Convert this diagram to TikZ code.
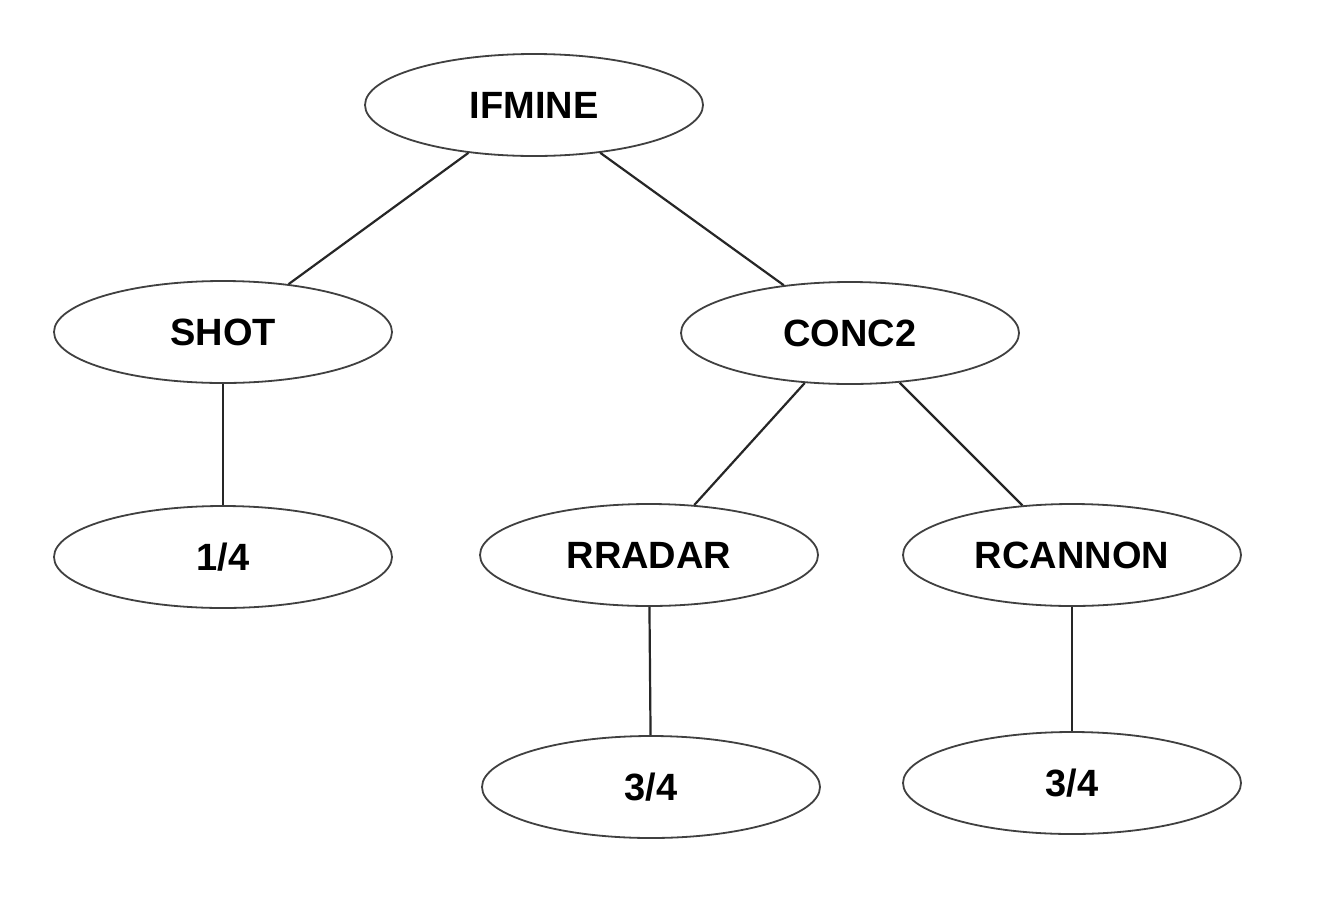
\documentclass[tikz,border=0pt]{standalone}
\usepackage{fontspec}
\setmainfont{Liberation Sans}
\usetikzlibrary{shapes.geometric}
\begin{document}
\begin{tikzpicture}[x=1pt,y=-1pt,
  el/.style={ellipse,draw=black!75,line width=1.8pt,minimum width=338pt,minimum height=102pt,inner sep=0pt,font=\fontsize{38}{40}\selectfont\bfseries},
  ed/.style={draw=black!85,line width=2.2pt}]
\useasboundingbox[fill=white] (0,0) rectangle (1339,903);
\node[el] (ifmine) at (534,105) {IFMINE};
\node[el] (shot) at (223,332) {SHOT};
\node[el] (conc2) at (850,333) {CONC2};
\node[el] (q1) at (223,557) {1/4};
\node[el] (rradar) at (649,555) {RRADAR};
\node[el] (rcannon) at (1072,555) {RCANNON};
\node[el] (q2) at (651,787) {3/4};
\node[el] (q3) at (1072,783) {3/4};
\draw[ed] (ifmine) -- (shot);
\draw[ed] (ifmine) -- (conc2);
\draw[ed] (shot) -- (q1);
\draw[ed] (conc2) -- (rradar);
\draw[ed] (conc2) -- (rcannon);
\draw[ed] (rradar) -- (q2);
\draw[ed] (rcannon) -- (q3);
\end{tikzpicture}
\end{document}
